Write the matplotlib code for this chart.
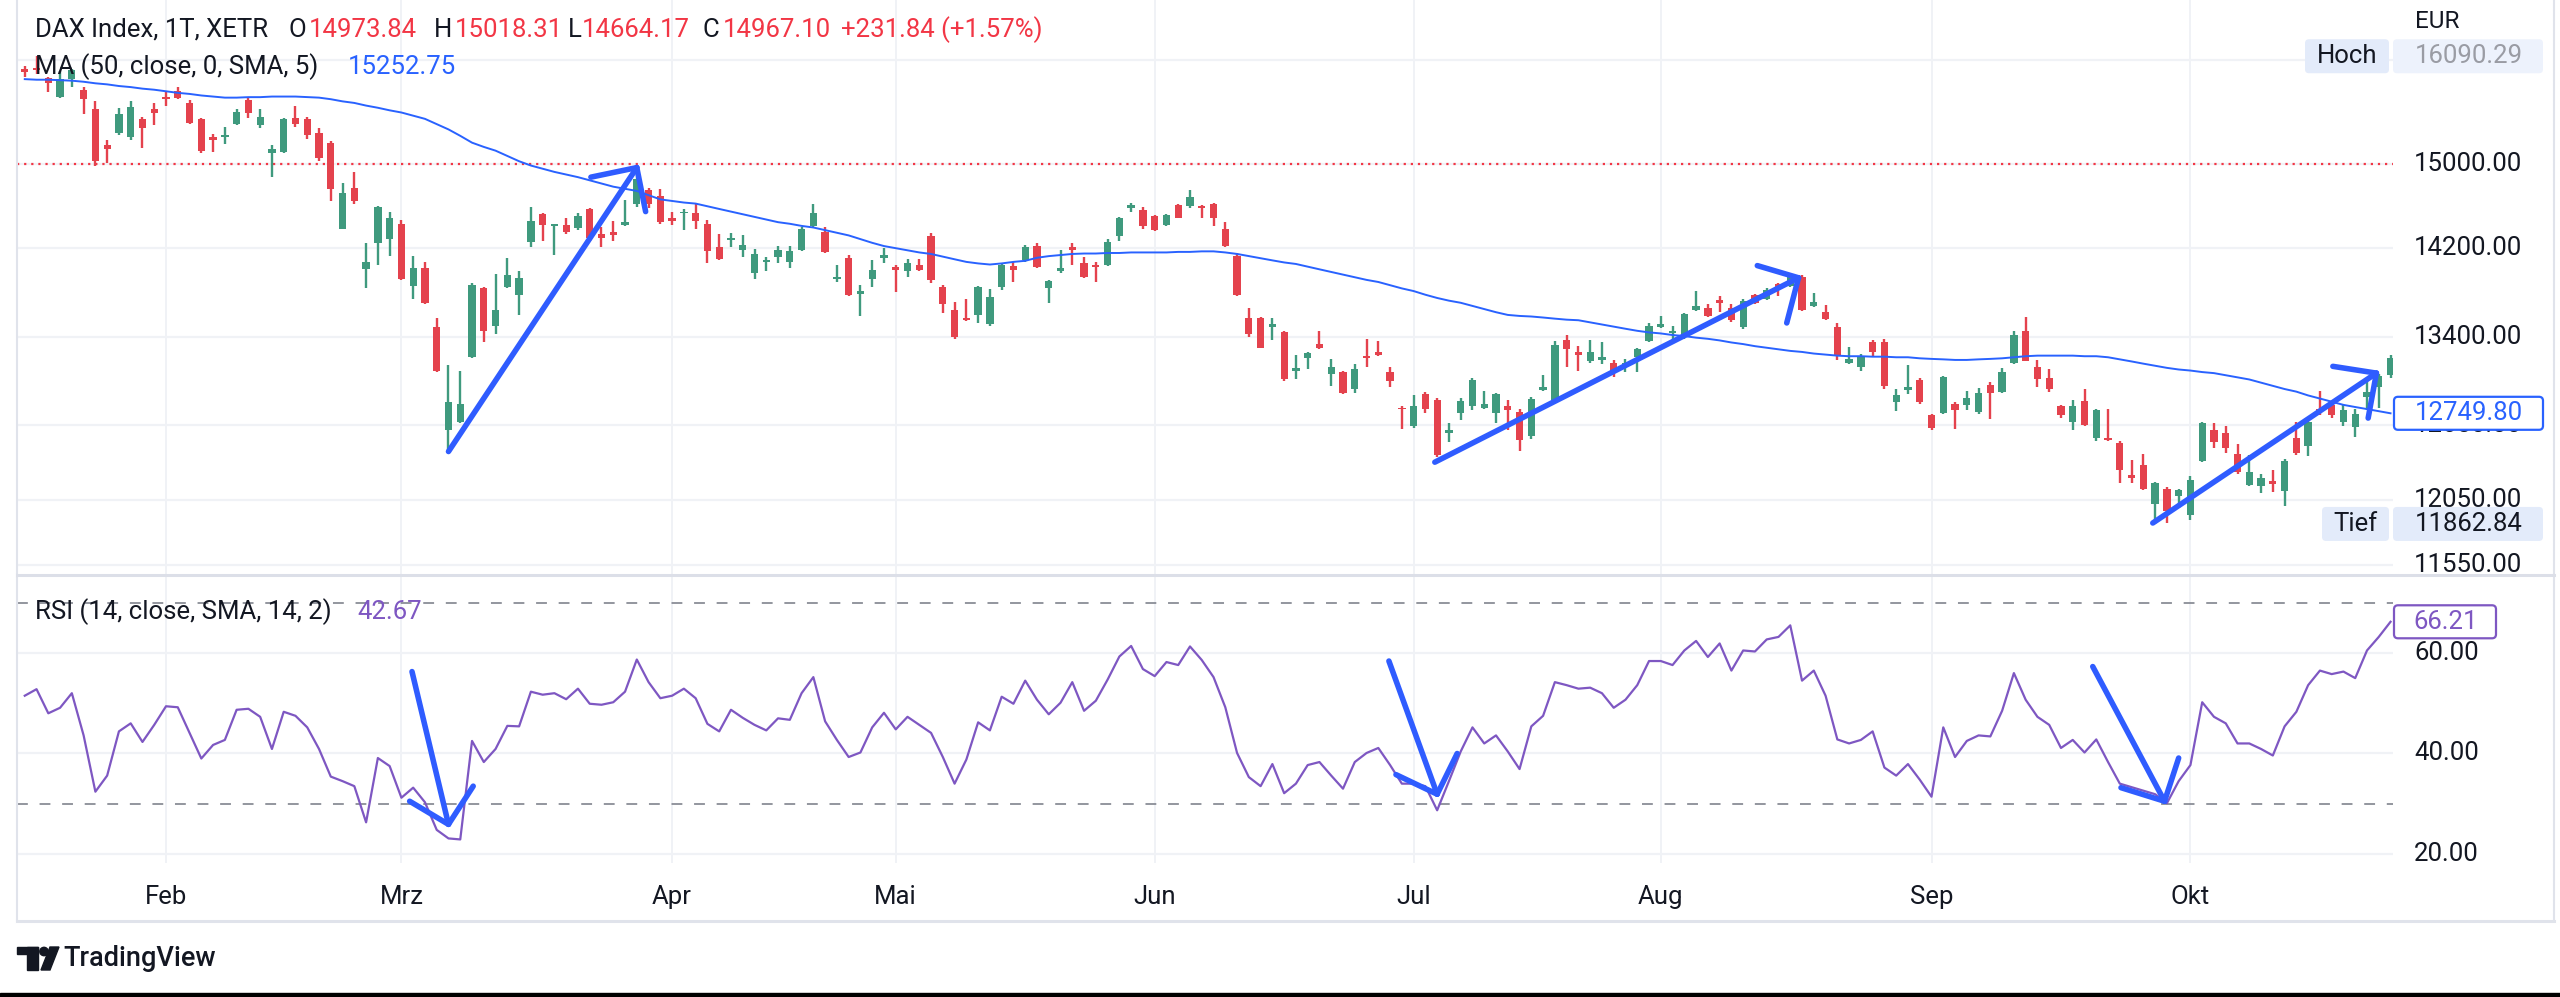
import numpy as np
import matplotlib
matplotlib.use("Agg")
import matplotlib.pyplot as plt
from matplotlib.patches import Rectangle, FancyBboxPatch, Polygon, Circle

plt.rcParams['font.family'] = ['Roboto', 'DejaVu Sans']

# ---------------- data (daily DAX candles, Jan-Oct) ----------------
opens = [15956, 15972, 15868, 15673, 15852, 15743, 15543, 15182, 15304, 15262,
         15447, 15543, 15673, 15732, 15608, 15447, 15262, 15262, 15394, 15635,
         15383, 15104, 15115, 15458, 15447, 15304, 15209, 14381, 14769, 14009,
         14243, 14282, 14426, 13855, 14014, 13491, 12613, 12675, 13224, 13831,
         13500, 13841, 13774, 14257, 14516, 14401, 14416, 14386, 14566, 14327,
         14351, 14416, 14617, 14744, 14693, 14481, 14526, 14526, 14426, 14208,
         14277, 14179, 13975, 14072, 14120, 14072, 14179, 14401, 14351, 13917,
         14106, 13783, 13917, 14110, 14023, 13985, 14048, 14307, 13846, 13641,
         13571, 13594, 13510, 13846, 14033, 14086, 14218, 13831, 13985, 14208,
         14058, 14048, 14048, 14307, 14576, 14556, 14501, 14416, 14607, 14591,
         14591, 14617, 14376, 14130, 13571, 13571, 13491, 13445, 13110, 13215,
         13338, 13079, 13097, 12953, 13233, 13270, 13101, 12798, 12644, 12908,
         12864, 12591, 12754, 12811, 12798, 12754, 12807, 12763, 12565, 12944,
         12864, 13370, 13270, 13188, 13201, 13178, 13155, 13224, 13361, 13491,
         13431, 13408, 13641, 13655, 13726, 13655, 13491, 13769, 13736, 13870,
         13855, 13937, 13674, 13618, 13491, 13178, 13142, 13352, 13352, 12842,
         12944, 13030, 12732, 12754, 12829, 12820, 12763, 12989, 12931, 13178,
         13454, 13142, 13043, 12807, 12675, 12851, 12544, 12544, 12505, 12244,
         12329, 12018, 12138, 12080, 11935, 12363, 12613, 12591, 12414, 12164,
         12160, 12202, 12118, 12544, 12479, 12789, 12820, 12675, 12635, 12886,
         12967, 13074]
highs = [15989, 16090.29, 15879, 15934, 15962, 15770, 15624, 15235, 15554, 15624,
         15463, 15608, 15727, 15770, 15635, 15458, 15299, 15368, 15543, 15662,
         15543, 15182, 15458, 15581, 15463, 15352, 15225, 14810, 14922, 14243,
         14591, 14541, 14466, 14130, 14072, 13571, 13155, 13110, 13879, 13846,
         13961, 14106, 13985, 14581, 14526, 14426, 14476, 14526, 14576, 14391,
         14451, 14652, 14948, 14769, 14754, 14541, 14566, 14627, 14466, 14327,
         14341, 14317, 14194, 14120, 14218, 14218, 14391, 14617, 14391, 14048,
         14135, 13865, 14086, 14203, 14048, 14096, 14096, 14341, 13865, 13712,
         13736, 13855, 13822, 14058, 14072, 14228, 14243, 13903, 14179, 14243,
         14120, 14072, 14282, 14491, 14627, 14581, 14506, 14516, 14617, 14744,
         14601, 14627, 14441, 14154, 13655, 13580, 13571, 13454, 13247, 13270,
         13454, 13210, 13110, 13169, 13384, 13361, 13142, 12807, 12899, 12930,
         12877, 12666, 12877, 13043, 12940, 12917, 12864, 12789, 12882, 13074,
         13361, 13417, 13324, 13370, 13352, 13201, 13210, 13301, 13524, 13585,
         13500, 13608, 13807, 13688, 13760, 13688, 13736, 13783, 13831, 13879,
         13951, 13951, 13793, 13679, 13524, 13315, 13256, 13375, 13384, 12953,
         13155, 13043, 12741, 13065, 12842, 12940, 12962, 13012, 13133, 13454,
         13580, 13201, 13119, 12820, 12864, 12953, 12785, 12789, 12522, 12371,
         12414, 12193, 12151, 12138, 12236, 12675, 12666, 12644, 12501, 12405,
         12257, 12291, 12375, 12675, 12723, 12940, 12833, 12820, 12785, 13021,
         13079, 13243]
lows = [15879, 15906, 15716, 15662, 15770, 15500, 14984, 15010, 15288, 15235,
        15156, 15383, 15576, 15651, 15394, 15104, 15120, 15198, 15383, 15458,
        15352, 14871, 15104, 15368, 15246, 15026, 14642, 14376, 14617, 13831,
        14048, 14130, 13908, 13736, 13688, 13101, 12440, 12666, 13215, 13352,
        13422, 13831, 13594, 14208, 14267, 14135, 14331, 14366, 14267, 14208,
        14267, 14406, 14581, 14576, 14426, 14416, 14366, 14381, 14058, 14086,
        14208, 14120, 13913, 13990, 14062, 14014, 14169, 14391, 14154, 13889,
        13760, 13585, 13846, 14062, 13797, 13937, 13985, 13879, 13608, 13384,
        13538, 13524, 13500, 13817, 13889, 14072, 14014, 13697, 13966, 14048,
        13927, 13889, 14033, 14267, 14536, 14381, 14356, 14406, 14476, 14576,
        14481, 14406, 14208, 13760, 13398, 13301, 13370, 13021, 13034, 13119,
        13292, 12976, 12908, 12917, 13142, 13233, 12967, 12622, 12631, 12749,
        12392, 12514, 12697, 12776, 12789, 12666, 12613, 12440, 12535, 12935,
        12842, 13142, 13110, 13178, 13169, 13056, 13097, 13101, 13352, 13482,
        13352, 13384, 13632, 13580, 13618, 13533, 13468, 13688, 13726, 13760,
        13846, 13627, 13665, 13547, 13201, 13165, 13110, 13238, 12953, 12767,
        12908, 12829, 12613, 12741, 12622, 12776, 12741, 12701, 12917, 13169,
        13188, 12967, 12931, 12710, 12609, 12644, 12522, 12522, 12180, 12185,
        12130, 11862.84, 11870, 11985, 11890, 12354, 12462, 12427, 12257, 12160,
        12101, 12109, 12006, 12405, 12397, 12732, 12710, 12644, 12557, 12776,
        12798, 13043]
closes = [15923, 15945, 15814, 15852, 15945, 15651, 15026, 15151, 15500, 15565,
          15352, 15511, 15651, 15662, 15405, 15130, 15235, 15288, 15516, 15511,
          15463, 15146, 15447, 15394, 15288, 15062, 14759, 14718, 14642, 14072,
          14581, 14476, 13917, 14014, 13702, 13110, 12842, 12829, 13865, 13454,
          13641, 13951, 13927, 14456, 14416, 14426, 14351, 14501, 14292, 14297,
          14317, 14441, 14856, 14617, 14441, 14456, 14541, 14456, 14169, 14096,
          14292, 14228, 14145, 14086, 14179, 14169, 14381, 14526, 14159, 13937,
          13769, 13807, 13999, 14135, 13999, 14058, 13999, 13903, 13688, 13398,
          13547, 13841, 13750, 14048, 13999, 14208, 14023, 13894, 14014, 14184,
          13937, 14023, 14257, 14481, 14601, 14401, 14366, 14506, 14481, 14682,
          14576, 14476, 14218, 13774, 13422, 13306, 13510, 13034, 13133, 13261,
          13301, 13142, 12922, 13119, 13215, 13243, 13021, 12785, 12811, 12785,
          12405, 12609, 12855, 13030, 12829, 12908, 12776, 12527, 12873, 12967,
          13329, 13292, 13247, 13270, 13224, 13110, 13178, 13292, 13500, 13514,
          13454, 13604, 13674, 13585, 13702, 13547, 13721, 13697, 13817, 13841,
          13942, 13641, 13712, 13561, 13233, 13210, 13238, 13270, 12976, 12899,
          12967, 12842, 12631, 13056, 12776, 12877, 12917, 12917, 13101, 13417,
          13192, 13034, 12953, 12732, 12807, 12657, 12776, 12527, 12286, 12223,
          12138, 12180, 11964, 12130, 12206, 12666, 12514, 12462, 12270, 12270,
          12223, 12172, 12363, 12427, 12675, 12767, 12732, 12776, 12741, 12931,
          13065, 13219]
ma50 = [15852, 15846, 15846, 15841, 15836, 15825, 15809, 15798, 15781, 15770,
        15754, 15743, 15727, 15711, 15700, 15684, 15673, 15662, 15662, 15667,
        15667, 15673, 15673, 15673, 15667, 15662, 15646, 15624, 15608, 15581,
        15559, 15533, 15511, 15479, 15447, 15394, 15341, 15277, 15209, 15167,
        15130, 15078, 15026, 14984, 14953, 14922, 14896, 14871, 14840, 14810,
        14779, 14759, 14738, 14698, 14657, 14642, 14627, 14617, 14591, 14566,
        14541, 14516, 14491, 14466, 14441, 14426, 14406, 14391, 14366, 14341,
        14317, 14282, 14248, 14218, 14198, 14179, 14159, 14145, 14120, 14096,
        14072, 14058, 14048, 14058, 14072, 14082, 14110, 14125, 14135, 14145,
        14149, 14149, 14154, 14154, 14159, 14159, 14159, 14159, 14164, 14164,
        14169, 14169, 14159, 14145, 14125, 14106, 14086, 14067, 14053, 14028,
        14004, 13980, 13956, 13932, 13908, 13889, 13860, 13831, 13807, 13774,
        13745, 13721, 13702, 13674, 13646, 13618, 13594, 13585, 13580, 13571,
        13561, 13552, 13547, 13528, 13510, 13491, 13472, 13454, 13440, 13431,
        13417, 13408, 13394, 13384, 13370, 13352, 13338, 13320, 13306, 13292,
        13279, 13270, 13256, 13247, 13238, 13233, 13233, 13229, 13229, 13224,
        13224, 13215, 13210, 13206, 13201, 13201, 13206, 13210, 13215, 13224,
        13233, 13238, 13238, 13238, 13238, 13233, 13233, 13224, 13206, 13188,
        13169, 13151, 13133, 13119, 13110, 13097, 13088, 13070, 13052, 13034,
        13007, 12980, 12953, 12931, 12899, 12873, 12846, 12820, 12802, 12785,
        12767, 12749.80]
rsi14 = [51.5, 52.8, 48.0, 49.1, 52.0, 43.6, 32.4, 35.6, 44.4, 46.0,
         42.3, 45.7, 49.4, 49.2, 44.1, 39.0, 41.7, 42.7, 48.7, 48.9,
         47.3, 40.9, 48.3, 47.5, 45.2, 40.9, 35.4, 34.5, 33.5, 26.3,
         39.1, 37.5, 31.2, 33.2, 30.3, 24.8, 23.1, 22.9, 42.5, 38.3,
         40.9, 45.5, 45.4, 52.3, 51.7, 52.0, 50.8, 52.9, 49.9, 49.7,
         50.2, 52.3, 58.7, 54.2, 51.0, 51.5, 52.9, 51.0, 45.9, 44.4,
         48.7, 47.1, 45.7, 44.6, 47.0, 46.7, 52.0, 55.2, 46.4, 42.7,
         39.3, 40.2, 45.2, 48.1, 44.8, 47.3, 45.7, 44.1, 39.3, 34.0,
         38.8, 46.2, 44.6, 51.3, 49.9, 54.5, 50.7, 47.8, 50.1, 54.2,
         48.5, 50.5, 54.7, 59.3, 61.4, 56.8, 55.4, 58.2, 57.6, 61.3,
         58.6, 55.2, 49.2, 40.1, 35.3, 33.5, 37.9, 32.1, 34.0, 37.7,
         38.3, 35.6, 33.0, 38.3, 40.1, 41.1, 37.7, 34.0, 34.0, 33.5,
         28.7, 34.5, 40.4, 45.2, 42.0, 43.6, 40.4, 36.9, 45.4, 47.5,
         54.2, 53.6, 52.9, 53.1, 52.0, 49.1, 50.7, 53.6, 58.4, 58.4,
         57.6, 60.5, 62.4, 59.2, 61.9, 56.5, 60.5, 60.3, 62.7, 63.2,
         65.5, 54.5, 56.5, 51.5, 42.8, 42.0, 42.7, 44.4, 37.2, 35.6,
         37.9, 34.8, 31.4, 45.2, 39.3, 42.5, 43.6, 43.4, 48.5, 56.0,
         50.7, 47.3, 45.7, 41.1, 42.7, 40.2, 42.8, 38.3, 34.0, 33.3,
         32.6, 31.9, 30.1, 34.5, 37.7, 50.2, 47.3, 46.0, 42.0, 42.0,
         40.9, 39.6, 45.4, 48.3, 53.6, 56.5, 55.8, 56.3, 55.0, 60.5,
         63.2, 66.21]

month_labels = ["Feb", "Mrz", "Apr", "Mai", "Jun", "Jul", "Aug", "Sep", "Okt"]
month_bars = [12, 32, 55, 74, 96, 118, 139, 162, 184]
price_ticks = [11550, 12050, 12650, 13400, 14200, 15000, 16050]
rsi_ticks = [20, 40, 60]
rsi_bands = [30, 70]
hline_level = 15000
price_high, price_low = 16090.29, 11862.84
legend_ohlc = ["14973.84", "15018.31", "14664.17", "14967.10", "+231.84 (+1.57%)"]
legend_ma = "15252.75"
legend_rsi = "42.67"

# hand-drawn arrows: (bar, value) points: shaft start, tip, head1, head2
price_arrows = [[(36.0, 12436), (52.0, 14964), (48.1, 14871), (52.75, 14541)],
                [(119.8, 12350), (150.7, 13927), (147.2, 14038), (149.7, 13523)],
                [(180.8, 11870), (199.8, 13088), (196.1, 13146), (199.1, 12710)]]
rsi_arrows = [[(32.9, 56.3), (36.0, 25.9), (32.7, 30.5), (38.1, 33.5)],
              [(115.9, 58.4), (120.0, 31.9), (116.5, 35.8), (121.7, 40.0)],
              [(175.7, 57.3), (181.8, 30.5), (178.1, 33.2), (183.0, 39.1)]]

# ---------------- styling ----------------
W, H = 2560, 997
GREEN, RED = '#3f9a7e', '#e4424d'
BLUE = '#2962ff'
ARROW = '#2f5cff'
PURPLE = '#7e57c2'
GRID = '#f0f2f6'
BORDER = '#e0e3eb'
TXT = '#131722'
FS = 18.5

fig = plt.figure(figsize=(W / 100, H / 100), dpi=100)
fig.patch.set_facecolor('white')

def fx(x): return x / W
def fy(y): return 1 - y / H

L, R = 17, 2393
ax = fig.add_axes([fx(L), fy(574), fx(R) - fx(L), fy(0) - fy(574)])
axr = fig.add_axes([fx(L), fy(863), fx(R) - fx(L), fy(575) - fy(863)], sharex=ax)

n = len(closes)
x = np.arange(n)
o, hi, lo, c = (np.array(v, dtype=float) for v in (opens, highs, lows, closes))

ax.set_yscale('log')
ax.set_xlim(-0.66, 201.21)
ax.set_ylim(11482, 16691)
axr.set_ylim(18.21, 75.52)
for a in (ax, axr):
    a.set_facecolor('white')
    for s in a.spines.values():
        s.set_visible(False)
    a.tick_params(left=False, bottom=False, labelleft=False, labelbottom=False,
                  which='both')
    a.yaxis.set_major_locator(plt.NullLocator())
    a.yaxis.set_minor_locator(plt.NullLocator())
    a.xaxis.set_major_locator(plt.NullLocator())
    for mb in month_bars:
        a.axvline(mb, color=GRID, lw=1.4, zorder=0)

for p in price_ticks:
    ax.axhline(p, color=GRID, lw=1.6, zorder=0)
for r in rsi_ticks:
    axr.axhline(r, color=GRID, lw=1.6, zorder=0)

ax.axhline(hline_level, color='#f23645', lw=1.6, ls=(0, (1, 2.2)), zorder=1)

up = c >= o
cols = np.where(up, GREEN, RED)
ax.vlines(x, lo, hi, colors=cols, lw=1.7, zorder=3)
ax.bar(x, np.maximum(np.abs(c - o), 4), bottom=np.minimum(o, c), width=0.62,
       color=cols, lw=0, zorder=4)
ax.plot(x, ma50, color=BLUE, lw=1.4, zorder=5)

axr.plot(x, rsi14, color=PURPLE, lw=1.6, zorder=3)
for b in rsi_bands:
    axr.axhline(b, color='#8a8d96', lw=1.3, ls=(0, (6, 6.5)), zorder=1)

def draw_arrows(a, arrows):
    for s, t, h1, h2 in arrows:
        for p0, p1 in ((s, t), (h1, t), (h2, t)):
            a.plot([p0[0], p1[0]], [p0[1], p1[1]], color=ARROW, lw=4.0,
                   solid_capstyle='round', zorder=6, clip_on=False)

draw_arrows(ax, price_arrows)
draw_arrows(axr, rsi_arrows)

# ---------------- overlay in pixel coords ----------------
ov = fig.add_axes([0, 0, 1, 1])
ov.set_xlim(0, W)
ov.set_ylim(H, 0)
ov.axis('off')
ov.patch.set_visible(False)
ov.set_zorder(10)

def ypx(a, v):
    return H - a.transData.transform((0, v))[1]

def xpx(a, i):
    return a.transData.transform((i, 1))[0]

# frame
ov.plot([L, L], [0, 921], color=BORDER, lw=1.5)
ov.plot([2554, 2554], [0, 921], color=BORDER, lw=1.5)
ov.plot([L, 2554], [921, 921], color=BORDER, lw=2.2)
ov.plot([L, 2554], [574.5, 574.5], color='#dcdfe8', lw=2.2)

# legends
ov.text(35, 30, "DAX Index, 1T, XETR", fontsize=FS, color=TXT, va='center')
for lab, xl, xv, val in zip(["O", "H", "L", "C", ""],
                            [289, 434, 568, 702, 841],
                            [309, 455, 582, 723, 841], legend_ohlc):
    if lab:
        ov.text(xl, 30, lab, fontsize=FS, color=TXT, va='center')
    ov.text(xv, 30, val, fontsize=FS, color='#f23645', va='center')
ov.text(35, 67, "MA (50, close, 0, SMA, 5)", fontsize=FS, color=TXT, va='center')
ov.text(348, 67, legend_ma, fontsize=FS, color=BLUE, va='center')
ov.text(35, 612, "RSI (14, close, SMA, 14, 2)", fontsize=FS, color=TXT, va='center')
ov.text(357, 612, legend_rsi, fontsize=FS, color=PURPLE, va='center')

# price scale
ov.text(2415, 21, "EUR", fontsize=FS - 1, color=TXT, va='center')
for p in price_ticks:
    ov.text(2414, ypx(ax, p), f"{p:.2f}", fontsize=FS, color=TXT, va='center')
for r in rsi_ticks:
    ov.text(2414, ypx(axr, r), f"{r:.2f}", fontsize=FS, color=TXT, va='center')

def box(x0, x1, yc, h, fc, ec=None, lw=0):
    ov.add_patch(FancyBboxPatch((x0, yc - h / 2), x1 - x0, h,
                                boxstyle="round,pad=0,rounding_size=4",
                                fc=fc, ec=ec if ec else fc, lw=lw, zorder=5))

yh = ypx(ax, price_high)
box(2305, 2389, yh, 34, '#e3ebfa')
box(2393, 2543, yh, 34, '#edf2fc')
ov.text(2347, yh, "Hoch", fontsize=FS, color=TXT, ha='center', va='center', zorder=6)
ov.text(2415, yh, f"{price_high:.2f}", fontsize=FS, color='#9a9ca4', va='center', zorder=6)

yt = ypx(ax, price_low)
box(2322, 2389, yt, 34, '#e3ebfa')
box(2393, 2543, yt, 34, '#e3ebfa')
ov.text(2355, yt, "Tief", fontsize=FS, color=TXT, ha='center', va='center', zorder=6)
ov.text(2415, yt, f"{price_low:.2f}", fontsize=FS, color=TXT, va='center', zorder=6)

ym = ypx(ax, ma50[-1])
box(2394, 2543, ym, 33, 'white', BLUE, 1.6)
ov.text(2415, ym, f"{ma50[-1]:.2f}", fontsize=FS, color=BLUE, va='center', zorder=6)

yr = ypx(axr, rsi14[-1])
box(2394, 2496, yr, 33, 'white', PURPLE, 1.6)
ov.text(2413, yr, f"{rsi14[-1]:.2f}", fontsize=FS, color=PURPLE, va='center', zorder=6)

# time axis
for mb, lab in zip(month_bars, month_labels):
    ov.text(xpx(axr, mb), 897, lab, fontsize=FS, color=TXT, ha='center', va='center')

# TradingView logo
ov.add_patch(Rectangle((17, 947), 21, 7, color=TXT))
ov.add_patch(Rectangle((27, 947), 11, 23, color=TXT))
ov.add_patch(Circle((44, 951.5), 4.2, color=TXT))
ov.add_patch(Polygon([(50, 947), (59, 947), (50, 970), (41, 970)], closed=True, color=TXT))
ov.text(63, 958, "TradingView", fontsize=19.5, color=TXT, va='center', fontweight='medium')

ov.add_patch(Rectangle((0, 993), W, 4, color='black'))

fig.savefig("out.png", dpi=100, facecolor='white')
